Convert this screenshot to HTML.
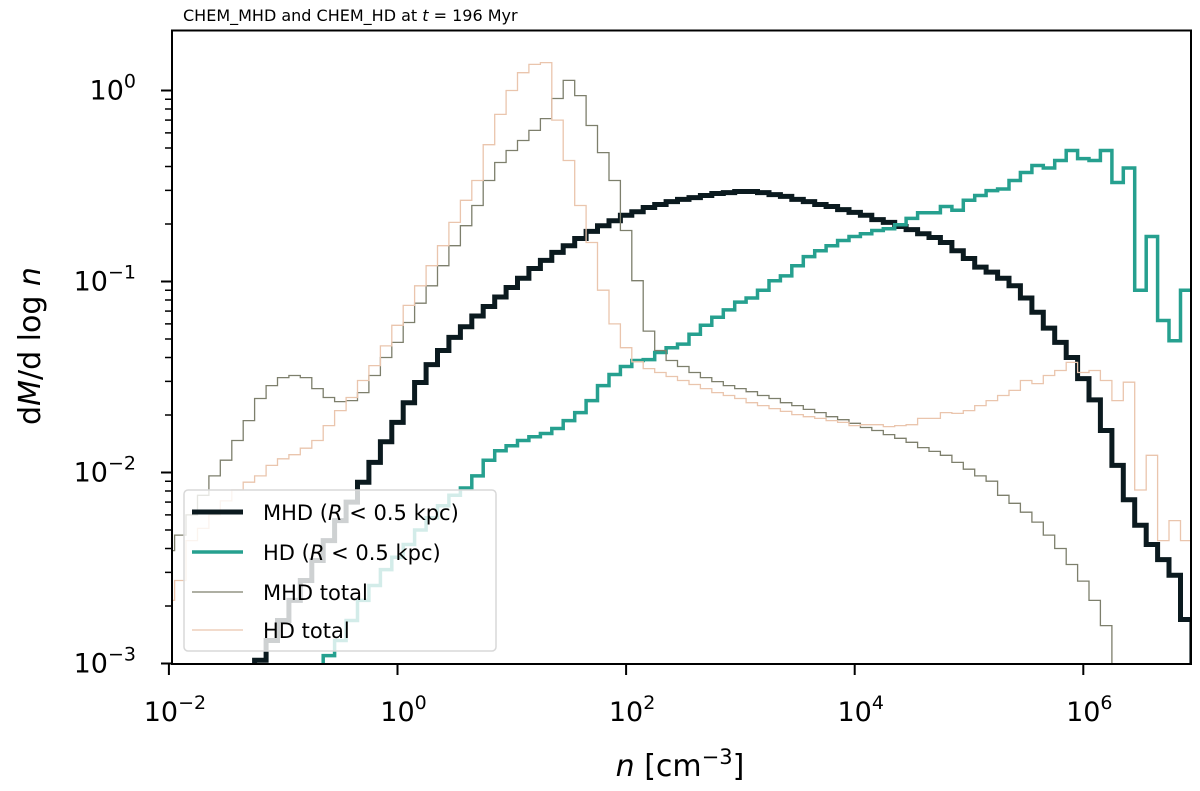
<!DOCTYPE html>
<html><head><meta charset="utf-8"><style>
html,body{margin:0;padding:0;background:#fff;width:1200px;height:791px;overflow:hidden;}
svg{display:block;font-family:"DejaVu Sans","Liberation Sans",sans-serif;}
</style></head><body>
<svg id="chart" width="1200" height="791" viewBox="0 0 1200 791" xmlns="http://www.w3.org/2000/svg">
<defs><clipPath id="plotclip"><rect x="172" y="30" width="1019" height="634"/></clipPath></defs>
<text x="183" y="21" font-size="16" fill="#000">CHEM_MHD and CHEM_HD at <tspan font-style="italic">t</tspan> = 196 Myr</text>
<g id="series" clip-path="url(#plotclip)"></g>
<rect x="172" y="30.5" width="1019" height="633.5" fill="none" stroke="#000" stroke-width="2"/>
<g id="ticks"></g>
<text x="680" y="776" font-size="30" text-anchor="middle"><tspan font-style="italic">n</tspan> [cm<tspan dy="-12" font-size="21">−3</tspan><tspan dy="12">]</tspan></text>
<text transform="translate(40,346) rotate(-90)" font-size="30" text-anchor="middle">d<tspan font-style="italic">M</tspan>/d log <tspan font-style="italic">n</tspan></text>
<g>
<rect x="184" y="490" width="312" height="161" rx="4" fill="#fff" fill-opacity="0.8" stroke="#d8d8d8" stroke-width="1.5"/>
<line x1="192" y1="512" x2="243" y2="512" stroke="#0b1a1f" stroke-width="5"/>
<text x="263" y="520" font-size="21">MHD (<tspan font-style="italic">R</tspan> &lt; 0.5 kpc)</text>
<line x1="192" y1="552" x2="243" y2="552" stroke="#26a08f" stroke-width="3.5"/>
<text x="263" y="560" font-size="21">HD (<tspan font-style="italic">R</tspan> &lt; 0.5 kpc)</text>
<line x1="192" y1="592" x2="243" y2="592" stroke="#7d7f6c" stroke-width="1.3"/>
<text x="263" y="600" font-size="21">MHD total</text>
<line x1="192" y1="630" x2="243" y2="630" stroke="#eac5ad" stroke-width="1.3"/>
<text x="263" y="638" font-size="21">HD total</text>
</g>
</svg>
<script>
const binStart = -2.05;
const binWidth = 0.1;
const mhdCore = [0,0,0,0,0,0,0,
0.0008,0.00104,0.00132,0.00168,0.00214,0.00272,0.00346,0.0044,0.0056,0.0070,0.0089,0.0113,0.0145,
0.0183,0.0232,0.0296,0.0367,0.0435,0.051,0.058,0.066,0.074,0.083,
0.093,0.104,0.117,0.129,0.142,0.154,0.168,0.183,0.196,0.208,
0.222,0.232,0.244,0.253,0.262,0.269,0.275,0.282,0.289,0.292,
0.296,0.296,0.292,0.285,0.279,0.269,0.262,0.253,0.247,0.238,
0.230,0.222,0.211,0.204,0.194,0.187,0.178,0.170,0.160,0.145,
0.132,0.119,0.112,0.104,0.095,0.082,0.069,0.057,0.048,0.040,
0.031,0.024,0.0166,0.0109,0.0072,0.0053,0.0042,0.0035,0.0029,0.0017,0.0006];
const hdCore = [0,0,0,0,0,0,0,0,0,0,0,0,0,
0.0007,0.0011,0.00132,0.00168,0.00214,0.00256,0.0031,
0.0036,0.0042,0.0050,0.0058,0.0067,0.0076,0.0083,0.0096,0.0116,0.0130,
0.0138,0.0147,0.0154,0.0160,0.0170,0.0187,0.0206,0.0238,0.0285,0.0326,
0.0359,0.0386,0.039,0.0425,0.045,0.047,0.053,0.059,0.065,0.071,
0.078,0.082,0.090,0.101,0.107,0.121,0.135,0.145,0.154,0.164,
0.172,0.178,0.185,0.189,0.198,0.214,0.229,0.229,0.247,0.236,
0.266,0.282,0.299,0.305,0.338,0.372,0.405,0.393,0.43,0.485,
0.44,0.43,0.485,0.33,0.393,0.090,0.172,0.0625,0.049,0.090,0.11];
const mhdTotal = [0.0039,0.0047,0.0060,0.0076,0.0096,0.0116,0.0147,0.0187,0.0244,0.0285,
0.0314,0.0322,0.0314,0.0275,0.0247,0.0235,0.0238,0.0262,0.0322,0.040,
0.048,0.061,0.077,0.095,0.121,0.154,0.196,0.250,0.338,0.420,
0.485,0.547,0.618,0.713,0.908,1.13,0.94,0.656,0.473,0.338,
0.185,0.101,0.055,0.0435,0.0386,0.0359,0.0334,0.0314,0.0299,0.0285,
0.0275,0.0265,0.0253,0.0244,0.0232,0.0224,0.0214,0.0206,0.0196,0.0189,
0.0181,0.0172,0.0166,0.0158,0.0151,0.0144,0.0135,0.0129,0.0123,0.0113,
0.0104,0.0096,0.0090,0.0076,0.0069,0.0062,0.0055,0.0047,0.0040,0.0033,
0.0027,0.00214,0.00158,0.00092,0,0,0,0,0,0,0];
const hdTotal = [0.00214,0.00272,0.0044,0.0051,0.0060,0.0071,0.0081,0.0089,0.0096,0.0109,
0.0118,0.0124,0.0134,0.0147,0.0176,0.0211,0.0247,0.0303,0.0363,0.046,
0.059,0.075,0.095,0.121,0.154,0.204,0.266,0.338,0.52,0.75,
1.0,1.24,1.37,1.40,0.70,0.43,0.25,0.16,0.09,0.06,
0.045,0.038,0.035,0.0334,0.0318,0.0303,0.0289,0.0275,0.0262,0.0253,
0.0244,0.0232,0.0224,0.0216,0.0209,0.0201,0.0196,0.0192,0.0187,0.0183,
0.0176,0.0178,0.0178,0.0174,0.0176,0.0178,0.0192,0.0192,0.0206,0.0204,
0.0211,0.0224,0.0238,0.0253,0.0269,0.0303,0.0292,0.0322,0.0342,0.0377,
0.0334,0.0342,0.0303,0.0238,0.0297,0.0081,0.0123,0.0044,0.0056,0.0044,0.006];
const xTickExps = [-2, 0, 2, 4, 6];
const yTickExps = [-3, -2, -1, 0];

const NS = "http://www.w3.org/2000/svg";
function xScale(logn){ return 397.5 + 114.3 * logn; }
function yScale(v){ const l = v > 0 ? Math.log10(v) : -5; return 663.5 - (l + 3) * 191; }

function stepPath(vals){
  let d = "";
  for (let i = 0; i < vals.length; i++){
    const x0 = xScale(binStart + i*binWidth), x1 = xScale(binStart + (i+1)*binWidth);
    const y = yScale(vals[i]);
    d += (i === 0 ? "M" : "L") + x0.toFixed(1) + "," + y.toFixed(1) + "L" + x1.toFixed(1) + "," + y.toFixed(1);
  }
  return d;
}
const g = document.getElementById("series");
function addSeries(vals, color, w, name){
  const p = document.createElementNS(NS, "path");
  p.setAttribute("d", stepPath(vals));
  p.setAttribute("fill", "none");
  p.setAttribute("stroke", color);
  p.setAttribute("stroke-width", w);
  p.setAttribute("stroke-linejoin", "miter");
  
  
  g.appendChild(p);
}
addSeries(mhdCore, "#0b1a1f", 5, "mhd-core-histogram");
addSeries(hdCore, "#26a08f", 3.5, "hd-core-histogram");
addSeries(mhdTotal, "#7d7f6c", 1.3, "mhd-total-histogram");
addSeries(hdTotal, "#eac5ad", 1.3, "hd-total-histogram");

const t = document.getElementById("ticks");
function line(x1,y1,x2,y2,w,name){
  const l = document.createElementNS(NS, "line");
  l.setAttribute("x1",x1); l.setAttribute("y1",y1); l.setAttribute("x2",x2); l.setAttribute("y2",y2);
  l.setAttribute("stroke","#000"); l.setAttribute("stroke-width",w);
  
  
  t.appendChild(l);
}
function label(x,y,exp,anchor,name){
  const tx = document.createElementNS(NS, "text");
  tx.setAttribute("x",x); tx.setAttribute("y",y); tx.setAttribute("font-size","27");
  tx.setAttribute("text-anchor",anchor);
  tx.innerHTML = '10<tspan dy="-12" font-size="19">' + String(exp).replace("-","−") + '</tspan>';
  
  
  t.appendChild(tx);
}
xTickExps.forEach(e => {
  const x = xScale(e);
  line(x, 664, x, 675, 2, "x-tick");
  label(x + 6, 721, e, "middle", "x-tick-label");
});
yTickExps.forEach(e => {
  const y = yScale(Math.pow(10, e));
  line(161, y, 172, y, 2, "y-tick");
  label(136, y + 9, e, "end", "y-tick-label");
  if (e < 0) {
    for (let m = 2; m <= 9; m++){
      const ym = yScale(m * Math.pow(10, e));
      line(165, ym, 172, ym, 1.5, "y-minor-tick");
    }
  }
});
</script>
</body></html>
